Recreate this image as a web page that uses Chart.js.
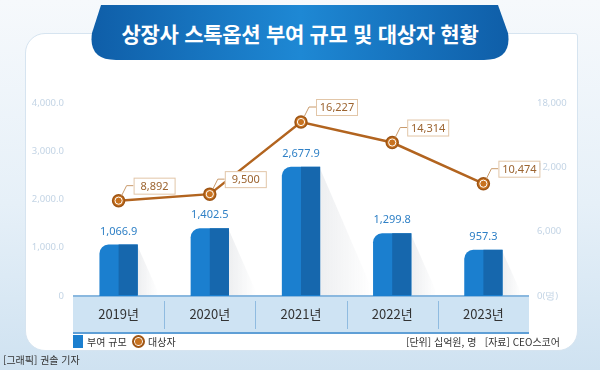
<!DOCTYPE html>
<html lang="ko">
<head>
<meta charset="utf-8">
<script src="https://cdn.jsdelivr.net/npm/chart.js@4"></script>
<style>
  html, body { margin: 0; padding: 0; }
  body {
    width: 600px; height: 370px; position: relative; overflow: hidden;
    background: linear-gradient(to bottom, #f6f9fc 0%, #e6f0f8 55%, #cfe2f1 100%);
    font-family: "Noto Sans CJK KR", "Noto Sans", sans-serif;
  }
  #card {
    position: absolute; left: 25px; top: 33px; width: 551px; height: 316px;
    background: #fff; border: 1px solid #d6e4f0; border-radius: 20px 3px 20px 20px;
  }
  #banner { position: absolute; left: 0; top: 0; }
  #title {
    position: absolute; left: 90px; width: 420px; top: 18px; text-align: center;
    color: #fff; font-size: 21px; font-weight: bold; letter-spacing: -0.3px;
  }
  #chart { position: absolute; left: 0; top: 0; }
  .txt { position: absolute; font-size: 10px; color: #333; white-space: nowrap; }
  #sq { position: absolute; left: 73px; top: 335px; width: 10px; height: 13px; background: #1b7fcf; }
  #dot { position: absolute; left: 132px; top: 335px; width: 9px; height: 9px; border-radius: 50%;
         background: #c8721f; border: 2px solid #9e5515; box-shadow: inset 0 0 0 1px #fff; }
</style>
</head>
<body>
<div id="card"></div>
<svg id="banner" width="600" height="70">
  <defs>
    <linearGradient id="bg" x1="0" x2="1" y1="0" y2="0">
      <stop offset="0" stop-color="#0f5ea8"/>
      <stop offset="0.5" stop-color="#1e88d4"/>
      <stop offset="1" stop-color="#0f5ea8"/>
    </linearGradient>
  </defs>
  <polygon points="92,33 101,33 101,46" fill="#b9bcc0"/>
  <polygon points="508,33 499,33 499,46" fill="#b9bcc0"/>
  <path d="M101,5 L498,5 L508,33 Q512,60 484,60 L116,60 Q88,60 92,33 Z" fill="url(#bg)"/>
</svg>
<div id="title">상장사 스톡옵션 부여 규모 및 대상자 현황</div>
<canvas id="chart" width="600" height="370"></canvas>
<div id="sq"></div>
<div class="txt" style="left:87px; top:334px;">부여 규모</div>
<div id="dot"></div>
<div class="txt" style="left:148px; top:334px;">대상자</div>
<div class="txt" style="left:406px; top:334px;">[단위] 십억원, 명&nbsp;&nbsp;&nbsp;[자료] CEO스코어</div>
<div class="txt" style="left:3px; top:352px;">[그래픽] 권솔 기자</div>
<script>
const years = ['2019년', '2020년', '2021년', '2022년', '2023년'];
const grantAmount = [1066.9, 1402.5, 2677.9, 1299.8, 957.3];   // 십억원
const recipients = [8892, 9500, 16227, 14314, 10474];          // 명
const leftTickMax = 4000, leftTickStep = 1000;
const rightTickMax = 18000, rightTickStep = 6000;

const fmt1 = v => v.toLocaleString('en-US', { minimumFractionDigits: 1, maximumFractionDigits: 1 });
const fmt0 = v => v.toLocaleString('en-US');

const decor = {
  id: 'decor',
  beforeDraw(chart) {
    // category band under the axis, drawn before the tick labels
    const ctx = chart.ctx, area = chart.chartArea, x = chart.scales.x;
    ctx.save();
    ctx.fillStyle = '#cee3f3';
    ctx.fillRect(area.left, area.bottom, area.right - area.left, 37);
    ctx.strokeStyle = '#8fbbe0';
    ctx.lineWidth = 1;
    for (let i = 1; i < years.length; i++) {
      const bx = Math.round((x.getPixelForValue(i - 1) + x.getPixelForValue(i)) / 2) + 0.5;
      ctx.beginPath(); ctx.moveTo(bx, area.bottom + 5); ctx.lineTo(bx, area.bottom + 33); ctx.stroke();
    }
    ctx.fillStyle = '#8ab8df';
    ctx.fillRect(area.left, area.bottom - 1, area.right - area.left, 2);
    ctx.fillStyle = '#5f9fd6';
    ctx.fillRect(area.left, area.bottom + 36, area.right - area.left, 2);
    ctx.restore();
  },
  beforeDatasetsDraw(chart) {
    const ctx = chart.ctx;
    ctx.save();
    // bar shadows
    chart.getDatasetMeta(0).data.forEach(bar => {
      const right = bar.x + bar.width / 2, h = bar.base - bar.y;
      const g = ctx.createLinearGradient(right, 0, right + h * 0.4, 0);
      g.addColorStop(0, 'rgba(120,130,145,0.13)');
      g.addColorStop(1, 'rgba(120,130,145,0)');
      ctx.fillStyle = g;
      ctx.beginPath();
      ctx.moveTo(right, bar.y + 2);
      ctx.lineTo(right + h * 0.42, bar.base - 1);
      ctx.lineTo(right, bar.base - 1);
      ctx.closePath(); ctx.fill();
    });
    ctx.restore();
  },
  afterDatasetDraw(chart, args) {
    const ctx = chart.ctx;
    ctx.save();
    if (args.index === 0) {
      // darker right half of each bar + value labels
      args.meta.data.forEach((bar, i) => {
        ctx.fillStyle = '#1667ad';
        ctx.fillRect(bar.x, bar.y, bar.width / 2, bar.base - bar.y - 1);
        ctx.fillStyle = '#2f80c6';
        ctx.font = '11px "Noto Sans"';
        ctx.textAlign = 'center'; ctx.textBaseline = 'middle';
        ctx.fillText(fmt1(grantAmount[i]), bar.x, bar.y - 13);
      });
    } else {
      args.meta.data.forEach((pt, i) => {
        // white ring inside each marker
        ctx.strokeStyle = '#fff'; ctx.lineWidth = 1;
        ctx.beginPath(); ctx.arc(pt.x, pt.y, 3.6, 0, Math.PI * 2); ctx.stroke();
        // callout box
        const bx = pt.x + 15, by = pt.y - 23, bw = 41, bh = 16;
        ctx.strokeStyle = '#c99a6b'; ctx.lineWidth = 1;
        ctx.beginPath();
        ctx.moveTo(pt.x + 3, pt.y - 5);
        ctx.lineTo(pt.x + 8, by + bh / 2);
        ctx.lineTo(bx, by + bh / 2);
        ctx.stroke();
        ctx.fillStyle = '#fff';
        ctx.fillRect(bx, by, bw, bh);
        ctx.strokeStyle = '#e2c6a8';
        ctx.strokeRect(bx + 0.5, by + 0.5, bw, bh);
        ctx.fillStyle = '#9c6430';
        ctx.font = '11px "Noto Sans"';
        ctx.textAlign = 'center'; ctx.textBaseline = 'middle';
        ctx.fillText(fmt0(recipients[i]), bx + bw / 2 + 0.5, by + bh / 2 + 1);
      });
    }
    ctx.restore();
  }
};

new Chart(document.getElementById('chart'), {
  type: 'bar',
  data: {
    labels: years,
    datasets: [
      {
        label: '부여 규모',
        data: grantAmount,
        yAxisID: 'y',
        backgroundColor: '#1b7fcf',
        borderRadius: { topLeft: 9, topRight: 0, bottomLeft: 0, bottomRight: 0 },
        borderSkipped: false,
        barPercentage: 0.42,
        categoryPercentage: 1,
        order: 2
      },
      {
        type: 'line',
        label: '대상자',
        data: recipients,
        yAxisID: 'y1',
        borderColor: '#b2641f',
        borderWidth: 2.5,
        pointRadius: 6,
        pointBackgroundColor: '#c8721f',
        pointBorderColor: '#9e5515',
        pointBorderWidth: 1.5,
        tension: 0,
        order: 1
      }
    ]
  },
  options: {
    responsive: false,
    animation: false,
    layout: { padding: { top: 103, left: 0, right: 0, bottom: 0 } },
    plugins: { legend: { display: false }, tooltip: { enabled: false } },
    scales: {
      x: {
        grid: { display: false, drawTicks: false },
        border: { display: false },
        ticks: { color: '#333', font: { size: 13, family: '"Noto Sans CJK KR"' }, padding: 10 },
        afterFit: s => { s.height = 74; }
      },
      y: {
        position: 'left',
        min: 0, max: leftTickMax,
        grid: { display: false, drawTicks: false },
        border: { display: false },
        ticks: {
          stepSize: leftTickStep, padding: 9, color: '#c3d4e5',
          font: { size: 9.5, family: '"Noto Sans"' },
          callback: v => v === 0 ? '0' : fmt1(v)
        },
        afterFit: s => { s.width = 73; }
      },
      y1: {
        position: 'right',
        min: 0, max: rightTickMax,
        grid: { display: false, drawTicks: false },
        border: { display: false },
        ticks: {
          stepSize: rightTickStep, padding: 8, color: '#c3d4e5',
          font: { size: 9.5, family: '"Noto Sans"' },
          callback: v => v === 0 ? '0(명)' : fmt0(v)
        },
        afterFit: s => { s.width = 71; }
      }
    }
  },
  plugins: [decor]
});
</script>
</body>
</html>
